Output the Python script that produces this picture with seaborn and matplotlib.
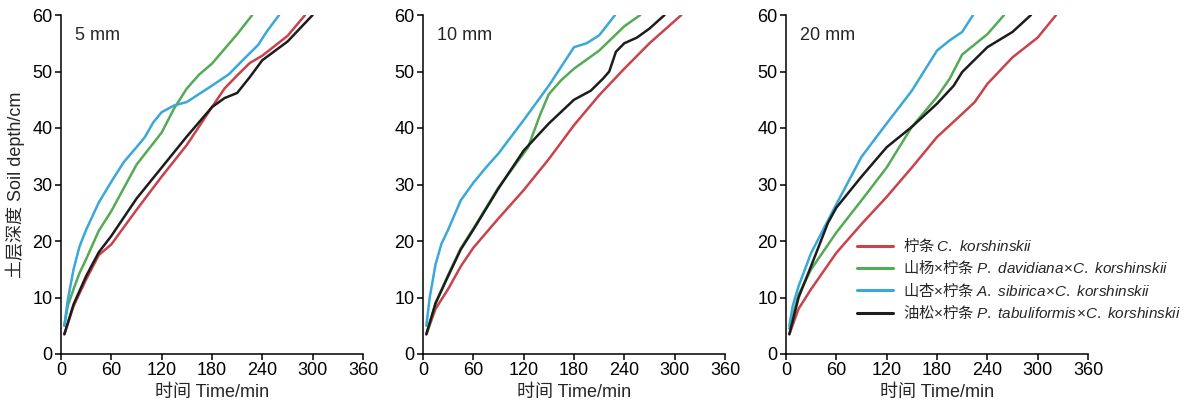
import numpy as np
import pandas as pd
import matplotlib
matplotlib.use("Agg")
import matplotlib.pyplot as plt
import seaborn as sns

# rainfall intensities (panels)
panels = ["5 mm", "10 mm", "20 mm"]
series = ["柠条 $C.\\ korshinskii$",
          "山杨$\\times$柠条 $P.\\ davidiana\\!\\times\\!C.\\ korshinskii$",
          "山杏$\\times$柠条 $A.\\ sibirica\\!\\times\\!C.\\ korshinskii$",
          "油松$\\times$柠条 $P.\\ tabuliformis\\!\\times\\!C.\\ korshinskii$"]
colors = ["#c8434b", "#55aa55", "#3aa8d8", "#1c1c1c"]

# 5 mm
t5_red = [4, 15, 30, 45, 60, 90, 120, 150, 180, 195, 210, 225, 240, 270, 291]
d5_red = [3.5, 8.5, 13.2, 17.5, 19.4, 25.5, 31.4, 37, 43.7, 47, 49.3, 51.5, 52.8, 56.3, 60]
t5_green = [4, 8, 15, 22, 30, 45, 60, 90, 120, 135, 150, 165, 180, 210, 228]
d5_green = [5, 8.5, 11.5, 14.3, 16.8, 21.8, 25.3, 33.5, 39.2, 43.5, 47, 49.5, 51.4, 56.6, 60]
t5_blue = [4, 8, 15, 22, 30, 45, 60, 75, 90, 100, 110, 120, 135, 150, 180, 200, 220, 235, 245, 260]
d5_blue = [5, 9.5, 15, 19, 22, 26.8, 30.5, 34, 36.6, 38.4, 41, 42.8, 44, 44.6, 47.5, 49.5, 52.5, 54.7, 57, 60]
t5_black = [4, 15, 30, 45, 60, 90, 120, 150, 180, 195, 210, 225, 240, 270, 300]
d5_black = [3.5, 8.8, 13.8, 18, 20.9, 27.5, 33, 38.5, 43.7, 45.3, 46.2, 49, 52, 55.3, 60]

# 10 mm
t10_red = [4, 15, 30, 45, 60, 90, 120, 150, 180, 210, 240, 270, 308]
d10_red = [3.5, 8, 11.5, 15.5, 18.8, 24, 29, 34.5, 40.5, 45.8, 50.5, 55, 60]
t10_green = [4, 15, 30, 45, 60, 90, 125, 130, 140, 150, 165, 180, 210, 240, 259]
d10_green = [3.5, 9, 14, 18.7, 22.2, 29.5, 36.5, 38.5, 42.5, 46, 48.5, 50.5, 53.7, 58, 60]
t10_blue = [4, 8, 15, 22, 30, 45, 60, 75, 90, 120, 150, 180, 195, 210, 229]
d10_blue = [5, 10, 15.9, 19.5, 22, 27.2, 30.3, 33, 35.5, 41.4, 47.5, 54.3, 55, 56.4, 60]
t10_black = [4, 15, 30, 45, 60, 90, 120, 150, 180, 200, 215, 222, 230, 240, 255, 270, 288]
d10_black = [3.5, 9, 13.8, 18.5, 22, 29.3, 36, 40.8, 45, 46.6, 48.8, 50, 53.5, 55, 56, 57.6, 60]

# 20 mm
t20_red = [4, 15, 30, 60, 90, 120, 150, 180, 210, 225, 240, 270, 300, 322]
d20_red = [3.5, 8, 11.5, 17.9, 23, 27.8, 33, 38.4, 42.5, 44.6, 47.8, 52.5, 56, 60]
t20_green = [4, 15, 30, 60, 90, 120, 150, 180, 195, 210, 240, 260]
d20_green = [4.5, 10.5, 15, 21.5, 27.2, 33, 40.2, 45.5, 48.7, 53, 56.6, 60]
t20_blue = [4, 8, 15, 30, 60, 90, 120, 150, 180, 195, 210, 223]
d20_blue = [5, 8.5, 12, 17.9, 26.5, 34.9, 40.8, 46.6, 53.7, 55.5, 57, 60]
t20_black = [4, 15, 30, 50, 60, 90, 120, 150, 180, 200, 210, 240, 270, 292]
d20_black = [3.5, 10, 15.6, 23.2, 25.9, 31.4, 36.6, 40.2, 44.3, 47.5, 49.9, 54.3, 57, 60]

panel_data = {
    "5 mm": [(t5_red, d5_red), (t5_green, d5_green), (t5_blue, d5_blue), (t5_black, d5_black)],
    "10 mm": [(t10_red, d10_red), (t10_green, d10_green), (t10_blue, d10_blue), (t10_black, d10_black)],
    "20 mm": [(t20_red, d20_red), (t20_green, d20_green), (t20_blue, d20_blue), (t20_black, d20_black)],
}

rows = []
for p in panels:
    for s, (t, d) in zip(series, panel_data[p]):
        for ti, di in zip(t, d):
            rows.append({"panel": p, "series": s, "time": ti, "depth": di})
df = pd.DataFrame(rows)

sns.set_style("ticks")
plt.rcParams["font.family"] = ["Liberation Sans", "Noto Sans CJK SC"]
# species names in italic Arial-like font via mathtext
plt.rcParams["mathtext.fontset"] = "custom"
plt.rcParams["mathtext.it"] = "Liberation Sans:italic"
plt.rcParams["mathtext.rm"] = "Liberation Sans"
plt.rcParams["mathtext.bf"] = "Liberation Sans:bold"

W, H = 1195, 409
fig = plt.figure(figsize=(W / 100, H / 100), dpi=100)
lefts = [61, 423, 786]
for k, p in enumerate(panels):
    ax = fig.add_axes([lefts[k] / W, 1 - 354 / H, 302 / W, 339 / H])
    sub = df[df.panel == p]
    sns.lineplot(data=sub, x="time", y="depth", hue="series", hue_order=series,
                 palette=colors, estimator=None, sort=False, lw=1.8, ax=ax,
                 legend=(k == 2))
    ax.set_xlim(0, 360)
    ax.set_ylim(0, 60)
    ax.set_xticks(np.arange(0, 361, 60))
    ax.set_yticks(np.arange(0, 61, 10))
    ax.tick_params(labelsize=13, length=4, width=1.1, colors="black", pad=2)
    for sp in ["top", "right"]:
        ax.spines[sp].set_visible(False)
    for sp in ["left", "bottom"]:
        ax.spines[sp].set_linewidth(1.1)
        ax.spines[sp].set_color("black")
    ax.set_xlabel("时间 Time/min", fontsize=13, labelpad=3)
    ax.set_ylabel("土层深度 Soil depth/cm" if k == 0 else "", fontsize=13, labelpad=5)
    ax.text(0.045, 0.965, p, transform=ax.transAxes, fontsize=13, va="top", ha="left")
    if k == 2:
        # non-math (Chinese) part of the labels uses the legend's own font
        ax.legend(loc="lower left", bbox_to_anchor=(0.215, 0.075), frameon=False,
                  prop={"family": "Noto Sans CJK SC", "size": 11},
                  handlelength=2.35, handletextpad=0.65, labelspacing=0.24,
                  borderaxespad=0)
        for line in ax.get_legend().get_lines():
            line.set_linewidth(2.2)

fig.savefig("out.png", dpi=100)
